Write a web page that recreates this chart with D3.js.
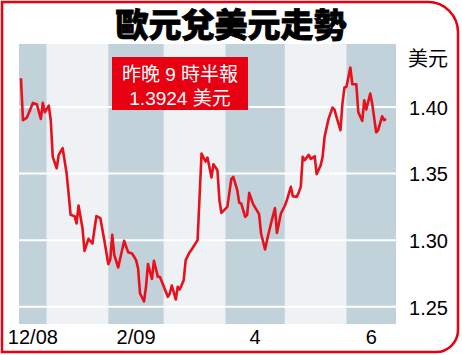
<!DOCTYPE html>
<html>
<head>
<meta charset="utf-8">
<script src="https://cdn.jsdelivr.net/npm/d3@7"></script>
<style>
  body { margin: 0; background: #fff; }
  svg { display: block; }
  .tick text { font-family: "Liberation Sans", Arial, sans-serif; font-size: 20px; fill: #000; }
</style>
</head>
<body>
<svg id="chart" width="462" height="355"></svg>
<script>
// daily EUR/USD close, Dec 2008 - Jun 2009
const dates = [
  "2008-12-19","2008-12-20","2008-12-22","2008-12-25","2008-12-27","2008-12-29","2008-12-30","2008-12-31",
  "2009-01-02","2009-01-03","2009-01-04","2009-01-06","2009-01-07","2009-01-09","2009-01-11","2009-01-12",
  "2009-01-13","2009-01-15","2009-01-16","2009-01-17","2009-01-19","2009-01-20","2009-01-22","2009-01-24",
  "2009-01-26","2009-01-28","2009-01-30","2009-02-01","2009-02-02","2009-02-03","2009-02-04","2009-02-06",
  "2009-02-09","2009-02-11","2009-02-13","2009-02-15","2009-02-16","2009-02-17","2009-02-19","2009-02-20",
  "2009-02-21","2009-02-23","2009-02-24","2009-02-26","2009-02-27","2009-03-01","2009-03-03","2009-03-04",
  "2009-03-05","2009-03-07","2009-03-08","2009-03-09","2009-03-11","2009-03-12","2009-03-14","2009-03-15",
  "2009-03-18","2009-03-19","2009-03-20","2009-03-22","2009-03-23","2009-03-25","2009-03-26","2009-03-28",
  "2009-03-29","2009-03-30","2009-04-02","2009-04-04","2009-04-05","2009-04-07","2009-04-08","2009-04-09",
  "2009-04-11","2009-04-12","2009-04-13","2009-04-15","2009-04-18","2009-04-19","2009-04-21","2009-04-22",
  "2009-04-24","2009-04-26","2009-04-27","2009-04-29","2009-05-01","2009-05-02","2009-05-04","2009-05-05",
  "2009-05-07","2009-05-08","2009-05-09","2009-05-10","2009-05-11","2009-05-13","2009-05-14","2009-05-16",
  "2009-05-17","2009-05-19","2009-05-20","2009-05-21","2009-05-23","2009-05-25","2009-05-26","2009-05-27",
  "2009-05-29","2009-05-30","2009-05-31","2009-06-01","2009-06-03","2009-06-04","2009-06-06","2009-06-07",
  "2009-06-09","2009-06-10","2009-06-11","2009-06-13","2009-06-14","2009-06-16","2009-06-17","2009-06-19",
  "2009-06-20","2009-06-21"
]
const rates = [
  1.4215,1.390,1.392,1.403,1.402,1.391,1.403,1.396,
  1.401,1.390,1.3625,1.354,1.364,1.369,1.350,1.335,
  1.319,1.318,1.3125,1.326,1.309,1.292,1.301,1.2975,
  1.318,1.3165,1.300,1.282,1.2855,1.304,1.289,1.2795,
  1.2995,1.291,1.290,1.285,1.279,1.260,1.254,1.265,
  1.282,1.271,1.2845,1.2725,1.2725,1.265,1.2575,1.260,
  1.266,1.2555,1.265,1.263,1.270,1.285,1.291,1.293,
  1.300,1.3325,1.365,1.359,1.362,1.347,1.357,1.3525,
  1.330,1.3205,1.325,1.346,1.3475,1.3375,1.328,1.3275,
  1.3175,1.319,1.3355,1.327,1.3195,1.305,1.293,1.300,
  1.3125,1.324,1.3055,1.320,1.326,1.330,1.340,1.333,
  1.3325,1.336,1.340,1.3625,1.360,1.364,1.361,1.363,
  1.3495,1.356,1.3625,1.3775,1.391,1.3995,1.398,1.3925,
  1.3825,1.4025,1.4145,1.415,1.4295,1.417,1.417,1.396,
  1.3895,1.405,1.398,1.410,1.4025,1.381,1.3825,1.393,
  1.390,1.391
]
const months = ["2008-12-01","2009-01-01","2009-02-01","2009-03-01","2009-04-01","2009-05-01","2009-06-01","2009-07-01"]
const monthLabels = ["12/08", "", "2/09", "", "4", "", "6"]
const yTicks = [1.25, 1.30, 1.35, 1.40]

const title = "歐元兌美元走勢"
const noteLines = ["昨晚 9 時半報", "1.3924 美元"]
const unit = "美元"

const margin = {top: 44, right: 66, bottom: 31, left: 19},
    W = 462, H = 355

const parse = d3.timeParse("%Y-%m-%d")
const data = dates.map((d, i) => ({d: parse(d), v: rates[i]}))

const svg = d3.select("#chart")

const fx = d3.scaleTime()
    .domain([parse("2008-12-18"), parse("2009-06-26")])
    .range([margin.left, W - margin.right])
const fy = d3.scaleLinear()
    .domain([1.2371, 1.4472])
    .range([H - margin.bottom, margin.top])

// month bands
const [d0, d1] = fx.domain()
const bands = months.slice(0, -1).map((m, i) => {
    const a = parse(m), b = parse(months[i + 1])
    return {a: a < d0 ? d0 : a, b: b > d1 ? d1 : b, i: i}
})
svg.append("g").selectAll("rect")
    .data(bands)
    .join("rect")
    .attr("x", b => fx(b.a))
    .attr("width", b => fx(b.b) - fx(b.a))
    .attr("y", margin.top)
    .attr("height", H - margin.bottom - margin.top)
    .attr("fill", b => b.i % 2 ? "#eef2f5" : "#c2d2db")

// grid
svg.append("g").selectAll("line")
    .data(yTicks)
    .join("line")
    .attr("x1", margin.left)
    .attr("x2", W - margin.right)
    .attr("y1", d => fy(d))
    .attr("y2", d => fy(d))
    .attr("stroke", "#fff")
    .attr("stroke-width", 2)

// y axis on the right
const ya = svg.append("g")
    .attr("transform", "translate(448,0)")
    .call(d3.axisLeft(fy).tickValues(yTicks).tickFormat(d3.format(".2f")).tickSize(0).tickPadding(0))
ya.select(".domain").remove()
ya.selectAll(".tick text").attr("dy", "0.36em")

svg.append("text")
    .attr("x", 448).attr("y", 66)
    .attr("text-anchor", "end")
    .style("font-family", "'Noto Sans CJK TC', sans-serif")
    .style("font-size", "20px")
    .text(unit)

// x labels centred in month bands
svg.append("g").selectAll("text")
    .data(bands.filter(b => monthLabels[b.i]))
    .join("text")
    .attr("x", b => (fx(b.a) + fx(b.b)) / 2)
    .attr("y", 344)
    .attr("text-anchor", "middle")
    .style("font-family", "'Liberation Sans', Arial, sans-serif")
    .style("font-size", "20px")
    .text(b => monthLabels[b.i])

// line
const valueline = d3.line()
    .x(d => fx(d.d))
    .y(d => fy(d.v))
svg.append("path")
    .datum(data)
    .attr("fill", "none")
    .attr("stroke", "#e8101a")
    .attr("stroke-width", 2.6)
    .attr("stroke-linejoin", "round")
    .attr("d", valueline)

// note box
svg.append("rect")
    .attr("x", 112).attr("y", 57)
    .attr("width", 136).attr("height", 53)
    .attr("fill", "#e60012")
svg.append("g").selectAll("text")
    .data(noteLines)
    .join("text")
    .attr("x", 180)
    .attr("y", (d, i) => 81 + i * 24)
    .attr("text-anchor", "middle")
    .attr("fill", "#fff")
    .style("font-family", "'Liberation Sans', 'Noto Sans CJK TC', sans-serif")
    .style("font-size", "19px")
    .text(d => d)

// title
svg.append("text")
    .attr("x", 231).attr("y", 37)
    .attr("text-anchor", "middle")
    .style("font-family", "'Noto Sans CJK TC', sans-serif")
    .style("font-weight", 900)
    .style("font-size", "33px")
    .attr("stroke", "#000")
    .attr("stroke-width", 0.8)
    .text(title)

// frame
svg.append("path")
    .attr("d", "M2,2 H428 A30,30 0 0 1 458,32 V330 A22,22 0 0 1 436,352 H2 Z")
    .attr("fill", "none")
    .attr("stroke", "#e60012")
    .attr("stroke-width", 2.5)
</script>
</body>
</html>
